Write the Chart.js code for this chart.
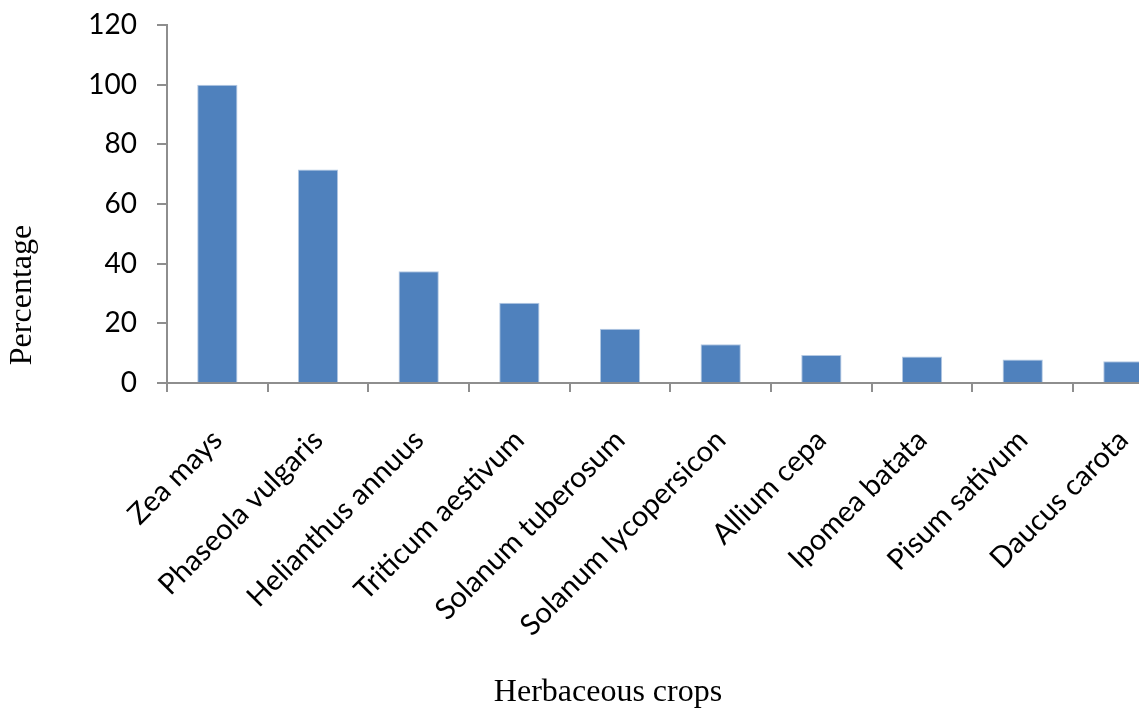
<!DOCTYPE html>
<html>
<head>
<meta charset="utf-8">
<script src="https://cdn.jsdelivr.net/npm/chart.js@4/dist/chart.umd.min.js"></script>
<style>
  html, body { margin: 0; padding: 0; overflow: hidden; background: #ffffff; }
  #wrap { position: relative; width: 1179px; height: 711px; }
</style>
</head>
<body>
<div id="wrap"><canvas id="chart" width="1179" height="711"></canvas></div>
<script>
// Crop names along the category axis
const crops = [
  'Zea mays', 'Phaseola vulgaris', 'Helianthus annuus', 'Triticum aestivum',
  'Solanum tuberosum', 'Solanum lycopersicon', 'Allium cepa',
  'Ipomea batata', 'Pisum sativum', 'Daucus carota'
];

// Share of each crop, in percent
const percentage = [100, 71.6, 37.5, 26.9, 18.2, 13.0, 9.4, 8.9, 7.9, 7.3];

// Value axis range and step
const yMin = 0;
const yMax = 120;
const yStep = 20;

const xTitle = 'Herbaceous crops';
const yTitle = 'Percentage';

const axisGray = '#8e8e8e';

// Axis titles drawn in serif type, placed relative to the plot area
const axisTitles = {
  id: 'axisTitles',
  afterDraw(chart) {
    const { ctx, chartArea } = chart;
    ctx.save();
    ctx.fillStyle = '#000000';
    ctx.font = '32px "Liberation Serif", "Times New Roman", serif';
    ctx.textAlign = 'center';
    ctx.textBaseline = 'middle';
    // vertical title
    ctx.save();
    ctx.translate(22.5, chartArea.bottom - 88);
    ctx.rotate(-Math.PI / 2);
    ctx.fillText(yTitle, 0, 0);
    ctx.restore();
    // horizontal title
    ctx.fillText(xTitle, chartArea.left + 441, chart.height - 18.5);
    ctx.restore();
  }
};

new Chart(document.getElementById('chart'), {
  type: 'bar',
  data: {
    labels: crops,
    datasets: [{
      label: yTitle,
      data: percentage,
      backgroundColor: '#4F81BD',
      borderColor: '#B4C9E3',
      borderWidth: 1,
      barPercentage: 0.4,
      categoryPercentage: 1.0
    }]
  },
  options: {
    responsive: false,
    animation: false,
    layout: { padding: { top: 25, left: 0, right: 0, bottom: 0 } },
    plugins: {
      legend: { display: false },
      tooltip: { enabled: false }
    },
    scales: {
      x: {
        offset: true,
        grid: {
          offset: true,
          drawOnChartArea: false,
          drawTicks: true,
          tickLength: 9,
          color: axisGray,
          lineWidth: 2
        },
        border: { color: axisGray, width: 2 },
        ticks: {
          autoSkip: false,
          maxRotation: 45,
          minRotation: 45,
          padding: 31,
          color: '#000000',
          font: { family: 'Lato, "Open Sans", sans-serif', size: 29 }
        },
        afterFit(scale) { scale.height = 328; }
      },
      y: {
        min: yMin,
        max: yMax,
        grid: {
          drawOnChartArea: false,
          drawTicks: true,
          tickLength: 10,
          color: axisGray,
          lineWidth: 2
        },
        border: { color: axisGray, width: 2 },
        ticks: {
          stepSize: yStep,
          padding: 20,
          color: '#000000',
          font: { family: 'Lato, "Open Sans", sans-serif', size: 28 }
        },
        afterFit(scale) {
          scale.width = 167;
          // the outer layout padding already leaves room for the end labels
          scale.paddingTop = 0;
          scale.paddingBottom = 0;
        }
      }
    }
  },
  plugins: [axisTitles]
});
</script>
</body>
</html>
